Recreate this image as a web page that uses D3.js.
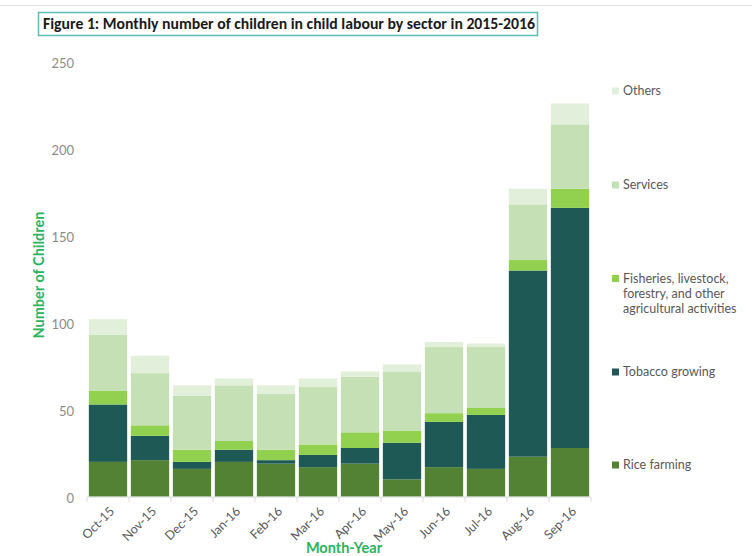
<!DOCTYPE html>
<html>
<head>
<meta charset="utf-8">
<script src="https://cdn.jsdelivr.net/npm/d3@7"></script>
<style>
  html, body { margin: 0; padding: 0; background: #ffffff; }
  svg { display: block; }
</style>
</head>
<body>
<svg id="chart" width="752" height="556"></svg>
<script>
// Monthly counts per sector, Oct 2015 – Sep 2016
const months = ["Oct-15", "Nov-15", "Dec-15", "Jan-16", "Feb-16", "Mar-16",
                "Apr-16", "May-16", "Jun-16", "Jul-16", "Aug-16", "Sep-16"];
const riceFarming = [20, 21, 16, 20, 19, 17, 19, 10, 17, 16, 23, 28];
const tobaccoGrowing = [33, 14, 4, 7, 2, 7, 9, 21, 26, 31, 107, 138];
const fisheriesEtc = [8, 6, 7, 5, 6, 6, 9, 7, 5, 4, 6, 11];
const services = [32, 30, 31, 32, 32, 33, 32, 34, 38, 35, 32, 37];
const others = [9, 10, 6, 4, 5, 5, 3, 4, 3, 2, 9, 12];
const yTicks = [0, 50, 100, 150, 200, 250];

const seriesKeys = ["rice", "tobacco", "fisheries", "services", "others"];
const seriesNames = {
  rice: ["Rice farming"],
  tobacco: ["Tobacco growing"],
  fisheries: ["Fisheries, livestock,", "forestry, and other", "agricultural activities"],
  services: ["Services"],
  others: ["Others"]
};
const colors = {
  rice: "#548235",
  tobacco: "#1e5955",
  fisheries: "#92d050",
  services: "#c5e0b4",
  others: "#e2efda"
};

const rows = months.map((m, i) => ({
  month: m,
  rice: riceFarming[i],
  tobacco: tobaccoGrowing[i],
  fisheries: fisheriesEtc[i],
  services: services[i],
  others: others[i]
}));

const svg = d3.select("#chart");
const textFont = "Lato, 'Open Sans', sans-serif";

// thin rule along the top of the page
svg.append("line")
  .attr("x1", 0).attr("x2", 752).attr("y1", 5.5).attr("y2", 5.5)
  .attr("stroke", "#e3e3e3").attr("stroke-width", 1);

// boxed figure title
svg.append("rect")
  .attr("x", 38.5).attr("y", 12.5).attr("width", 499).attr("height", 23)
  .attr("fill", "#ffffff").attr("stroke", "#5bbfb3").attr("stroke-width", 1.5);
const title = svg.append("text")
  .attr("x", 43).attr("y", 29)
  .attr("font-family", "Carlito, Lato, 'Open Sans', sans-serif")
  .attr("font-weight", "bold").attr("font-size", 15)
  .attr("fill", "#1a1a1a")
  .text("Figure 1: Monthly number of children in child labour by sector in 2015-2016");
const tw = title.node().getComputedTextLength();
if (tw > 0) title.attr("textLength", 492).attr("lengthAdjust", "spacingAndGlyphs");

// scales
const x = d3.scaleBand()
  .domain(months)
  .range([87, 591])
  .paddingInner(0.088)
  .paddingOuter(0.044);
const y = d3.scaleLinear().domain([0, 250]).range([496.7, 61.7]);

const stacked = d3.stack().keys(seriesKeys)(rows);

// bars
svg.append("g").selectAll("g")
  .data(stacked)
  .join("g")
  .attr("fill", d => colors[d.key])
  .selectAll("rect")
  .data(d => d)
  .join("rect")
  .attr("x", d => x(d.data.month))
  .attr("width", x.bandwidth())
  .attr("y", d => y(d[1]))
  .attr("height", d => y(d[0]) - y(d[1]));

// y axis labels (no axis line or grid)
const yAxis = svg.append("g")
  .attr("transform", "translate(74,0)")
  .call(d3.axisLeft(y).tickValues(yTicks).tickSize(0).tickPadding(0));
yAxis.select(".domain").remove();
yAxis.selectAll("text")
  .attr("font-family", textFont).attr("font-size", 13)
  .attr("fill", "#8c8c8c").attr("dy", "0.42em");

// x axis: baseline with ticks on category boundaries
const xAxisG = svg.append("g");
xAxisG.append("line")
  .attr("x1", 87).attr("x2", 591).attr("y1", 497).attr("y2", 497)
  .attr("stroke", "#d9d9d9").attr("stroke-width", 1);
const step = x.step();
const boundaries = d3.range(months.length + 1).map(i => 87 + i * step);
xAxisG.selectAll("line.tick")
  .data(boundaries)
  .join("line")
  .attr("class", "tick")
  .attr("x1", d => d).attr("x2", d => d)
  .attr("y1", 497).attr("y2", 502)
  .attr("stroke", "#d9d9d9").attr("stroke-width", 1);
xAxisG.selectAll("text")
  .data(months)
  .join("text")
  .attr("transform", d => `translate(${x(d) + x.bandwidth() / 2 + 4},${509}) rotate(-45)`)
  .attr("text-anchor", "end")
  .attr("dy", "0.35em")
  .attr("font-family", textFont).attr("font-size", 12.5)
  .attr("fill", "#595959")
  .text(d => d);

// axis titles
svg.append("text")
  .attr("transform", "translate(44,275) rotate(-90)")
  .attr("text-anchor", "middle")
  .attr("font-family", textFont).attr("font-weight", "bold").attr("font-size", 14.5)
  .attr("fill", "#2bb35c")
  .text("Number of Children");
svg.append("text")
  .attr("x", 344).attr("y", 553)
  .attr("text-anchor", "middle")
  .attr("font-family", textFont).attr("font-weight", "bold").attr("font-size", 14.5)
  .attr("fill", "#2bb35c")
  .text("Month-Year");

// legend, top to bottom in reverse stacking order
const legendY = { others: 91, services: 185, fisheries: 278.5, tobacco: 372, rice: 465 };
const legend = svg.append("g");
seriesKeys.slice().reverse().forEach(k => {
  const cy = legendY[k];
  legend.append("rect")
    .attr("x", 612).attr("y", cy - 3.5).attr("width", 7).attr("height", 7)
    .attr("fill", colors[k]);
  const t = legend.append("text")
    .attr("font-family", textFont).attr("font-size", 12.5)
    .attr("fill", "#595959");
  seriesNames[k].forEach((line, i) => {
    t.append("tspan")
      .attr("x", 623).attr("y", cy + i * 15)
      .attr("dy", "0.35em")
      .text(line);
  });
});
</script>
</body>
</html>
